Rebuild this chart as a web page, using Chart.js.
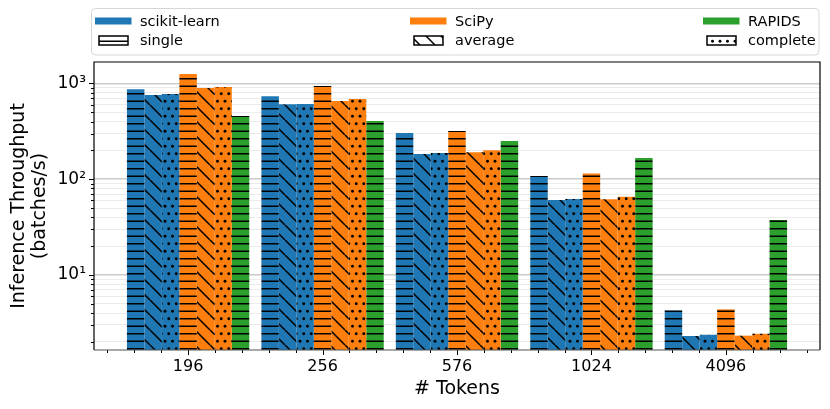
<!DOCTYPE html>
<html>
<head>
<meta charset="utf-8">
<script src="https://cdn.jsdelivr.net/npm/chart.js@4/dist/chart.umd.min.js"></script>
<style>
  html, body { margin: 0; padding: 0; background: #fff; }
  #wrap { width: 830px; height: 409px; position: relative; }
</style>
</head>
<body>
<div id="wrap"><canvas id="c"></canvas></div>
<script>
// ---------------- data ----------------
const categories = ['196', '256', '576', '1024', '4096'];
const sklearnSingle   = [869, 735, 304, 108, 4.27];
const sklearnAverage  = [759, 607, 183, 60.7, 2.30];
const sklearnComplete = [776, 611, 188, 62.1, 2.37];
const scipySingle     = [1256, 942, 319, 115, 4.37];
const scipyAverage    = [897, 656, 191, 61.6, 2.32];
const scipyComplete   = [919, 689, 201, 65.6, 2.43];
const rapidsSingle    = [457, 406, 251, 167, 37.5];

const methods  = ['scikit-learn', 'SciPy', 'RAPIDS'];
const linkages = ['single', 'average', 'complete'];
const yTickValues = [2, 3, 4, 5, 6, 7, 8, 9, 10, 20, 30, 40, 50, 60, 70, 80, 90,
                     100, 200, 300, 400, 500, 600, 700, 800, 900, 1000];
const yMin = 1.643, yMax = 1677;
const supers = { 1: '\u00B9', 2: '\u00B2', 3: '\u00B3' };

// ---------------- styling ----------------
const FONT = 'DejaVu Sans';
const methodColors = { 'scikit-learn': '#1f77b4', 'SciPy': '#ff7f0e', 'RAPIDS': '#2ca02c' };

const canvas = document.getElementById('c');
const mainCtx = canvas.getContext('2d');

function makePattern(color, kind) {
  const s = 15;
  const tile = document.createElement('canvas');
  tile.width = s; tile.height = s;
  const g = tile.getContext('2d');
  g.fillStyle = color; g.fillRect(0, 0, s, s);
  g.strokeStyle = '#000'; g.fillStyle = '#000'; g.lineWidth = 1.6;
  if (kind === 'single') {
    g.beginPath();
    g.moveTo(0, 3.75); g.lineTo(s, 3.75);
    g.moveTo(0, 11.25); g.lineTo(s, 11.25);
    g.stroke();
  } else if (kind === 'average') {
    g.lineWidth = 1.5;
    g.beginPath();
    for (const k of [-s, 0, s]) { g.moveTo(k, 0); g.lineTo(k + s, s); }
    g.stroke();
  } else {
    const dots = [[3.75, 3.75], [11.25, 3.75], [0, 11.25], [7.5, 11.25], [15, 11.25]];
    for (const [dx, dy] of dots) {
      g.beginPath(); g.arc(dx, dy, 1.45, 0, Math.PI * 2); g.fill();
    }
  }
  return mainCtx.createPattern(tile, 'repeat');
}

const seriesList = [
  ['scikit-learn', 'single', sklearnSingle],
  ['scikit-learn', 'average', sklearnAverage],
  ['scikit-learn', 'complete', sklearnComplete],
  ['SciPy', 'single', scipySingle],
  ['SciPy', 'average', scipyAverage],
  ['SciPy', 'complete', scipyComplete],
  ['RAPIDS', 'single', rapidsSingle]
];

const datasets = seriesList.map(([m, l, vals]) => ({
  label: m + ' ' + l,
  data: vals.map((v, i) => ({ x: i, y: v })),
  backgroundColor: makePattern(methodColors[m], l),
  borderWidth: 0,
  categoryPercentage: 0.91,
  barPercentage: 1.0
}));

const isDecade = v => v != null && Math.abs(Math.log10(v) - Math.round(Math.log10(v))) < 1e-9;

// ---------------- plugins ----------------
const axisDecor = {
  id: 'axisDecor',
  afterDraw(chart) {
    const { ctx, chartArea: a, scales: { x, y } } = chart;
    ctx.save();
    ctx.strokeStyle = '#000'; ctx.lineWidth = 1;
    ctx.beginPath();
    for (const t of y.ticks) {
      const py = Math.round(y.getPixelForValue(t.value)) + 0.5;
      const L = isDecade(t.value) ? 5 : 3;
      ctx.moveTo(a.left - L, py); ctx.lineTo(a.left, py);
    }
    for (let k = Math.ceil(x.min * 5 - 1e-9); k <= Math.floor(x.max * 5 + 1e-9); k++) {
      const px = Math.round(x.getPixelForValue(k / 5)) + 0.5;
      const L = (k % 5 === 0) ? 5 : 3;
      ctx.moveTo(px, a.bottom); ctx.lineTo(px, a.bottom + L);
    }
    ctx.stroke();
    ctx.lineWidth = 1.2; ctx.strokeStyle = '#000';
    ctx.beginPath();
    ctx.moveTo(a.left, a.bottom); ctx.lineTo(a.left, a.top);
    ctx.lineTo(a.right, a.top); ctx.lineTo(a.right, a.bottom);
    ctx.stroke();
    ctx.strokeStyle = '#555';
    ctx.beginPath(); ctx.moveTo(a.left, a.bottom); ctx.lineTo(a.right, a.bottom); ctx.stroke();
    ctx.restore();
  }
};

const customLegend = {
  id: 'customLegend',
  afterDraw(chart) {
    const { ctx, chartArea: a } = chart;
    ctx.save();
    const bx = a.left - 2.5, by = 8.5, bw = a.right - a.left + 1.5, bh = 46.5, r = 4;
    ctx.beginPath();
    ctx.moveTo(bx + r, by); ctx.lineTo(bx + bw - r, by); ctx.arcTo(bx + bw, by, bx + bw, by + r, r);
    ctx.lineTo(bx + bw, by + bh - r); ctx.arcTo(bx + bw, by + bh, bx + bw - r, by + bh, r);
    ctx.lineTo(bx + r, by + bh); ctx.arcTo(bx, by + bh, bx, by + bh - r, r);
    ctx.lineTo(bx, by + r); ctx.arcTo(bx, by, bx + r, by, r);
    ctx.closePath();
    ctx.fillStyle = 'rgba(255,255,255,0.85)'; ctx.fill();
    ctx.strokeStyle = '#d6d6d6'; ctx.lineWidth = 1; ctx.stroke();

    const colX = [a.left + 1, a.left + 316, a.left + 609];
    const rowY = [21, 40.5];
    ctx.font = '14.5px "' + FONT + '"';
    ctx.textBaseline = 'middle'; ctx.textAlign = 'left';
    methods.forEach((m, i) => {
      ctx.fillStyle = methodColors[m];
      ctx.fillRect(colX[i], rowY[0] - 3.5, 36.5, 7);
      ctx.fillStyle = '#000';
      ctx.fillText(m, colX[i] + 45, rowY[0] + 1);
    });
    linkages.forEach((l, i) => {
      const px = colX[i] + 4, py = rowY[1] - 4.5, pw = 29, ph = 9;
      ctx.fillStyle = makePattern('#ffffff', l);
      ctx.fillRect(px, py, pw, ph);
      ctx.strokeStyle = '#000'; ctx.lineWidth = 1.5;
      ctx.strokeRect(px, py, pw, ph);
      ctx.fillStyle = '#000';
      ctx.fillText(l, colX[i] + 45, rowY[1] + 1);
    });
    ctx.restore();
  }
};

// ---------------- chart ----------------
new Chart(canvas, {
  type: 'bar',
  data: { datasets },
  options: {
    responsive: true,
    maintainAspectRatio: false,
    animation: false,
    layout: { padding: { top: 62, right: 10, left: 0, bottom: 0 } },
    plugins: {
      legend: { display: false },
      tooltip: { enabled: false }
    },
    scales: {
      x: {
        type: 'linear',
        min: -0.7, max: 4.7,
        offset: false,
        grid: { display: false, drawTicks: false },
        border: { display: false },
        ticks: {
          stepSize: 1, includeBounds: false, autoSkip: false, maxRotation: 0,
          padding: 7, color: '#000',
          font: { family: FONT, size: 16 },
          callback: v => (Number.isInteger(v) && categories[v] !== undefined) ? categories[v] : ''
        },
        title: {
          display: true, text: '# Tokens', color: '#000',
          font: { family: FONT, size: 19 },
          padding: { top: 0, bottom: 9 }
        },
        afterFit(s) { s.height = 59; }
      },
      y: {
        type: 'logarithmic',
        min: yMin, max: yMax,
        afterBuildTicks(s) { s.ticks = yTickValues.map(v => ({ value: v })); },
        grid: {
          drawTicks: false,
          color: c => (c.tick && isDecade(c.tick.value)) ? '#cbcbcb' : '#ebebeb',
          lineWidth: c => (c.tick && isDecade(c.tick.value)) ? 1.6 : 1
        },
        border: { display: false },
        ticks: {
          autoSkip: false, padding: 8, color: '#000',
          font: { family: FONT, size: 17 },
          callback: v => isDecade(v) ? '10' + supers[Math.round(Math.log10(v))] : ''
        },
        title: {
          display: true, text: ['Inference Throughput', '(batches/s)'], color: '#000',
          font: { family: FONT, size: 19, lineHeight: 1.1 },
          padding: { top: 9, bottom: 0 }
        },
        afterFit(s) { s.width = 94; }
      }
    }
  },
  plugins: [axisDecor, customLegend]
});
</script>
</body>
</html>
